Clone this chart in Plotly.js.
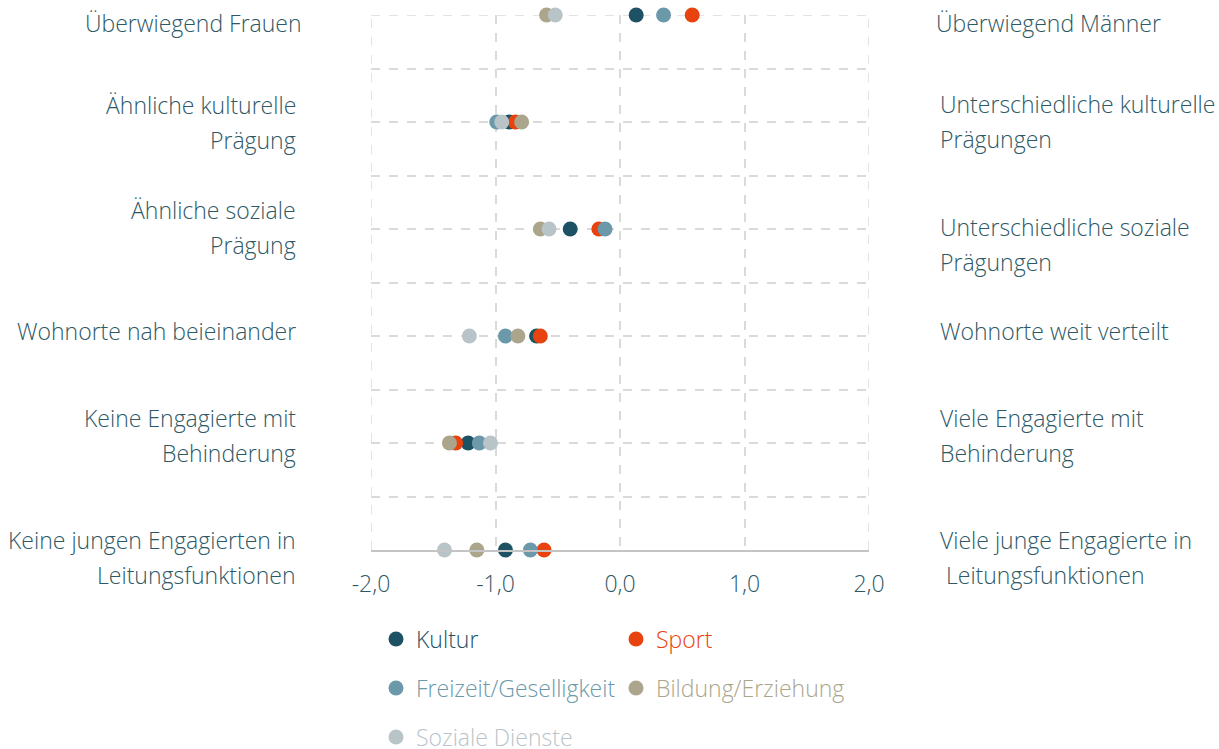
<!DOCTYPE html>
<html>
<head>
<meta charset="utf-8">
<script src="https://cdn.plot.ly/plotly-3.0.1.min.js"></script>
<style>html,body{margin:0;padding:0;background:#fff;}#chart{width:1219px;height:749px;}</style>
</head>
<body>
<div id="chart"></div>
<script>
// ---- data ----
var leftLabels = [
  ["Überwiegend Frauen"],
  ["Ähnliche kulturelle", "Prägung"],
  ["Ähnliche soziale", "Prägung"],
  ["Wohnorte nah beieinander"],
  ["Keine Engagierte mit", "Behinderung"],
  ["Keine jungen Engagierten in", "Leitungsfunktionen"]
];
var rightLabels = [
  ["Überwiegend Männer"],
  ["Unterschiedliche kulturelle", "Prägungen"],
  ["Unterschiedliche soziale", "Prägungen"],
  ["Wohnorte weit verteilt"],
  ["Viele Engagierte mit", "Behinderung"],
  ["Viele junge Engagierte in", "\u00a0Leitungsfunktionen"]
];
var seriesNames = ["Kultur", "Sport", "Freizeit/Geselligkeit", "Bildung/Erziehung", "Soziale Dienste"];
var kultur   = [0.13, -0.89, -0.40, -0.67, -1.22, -0.92];
var sport    = [0.58, -0.84, -0.17, -0.64, -1.32, -0.61];
var freizeit = [0.35, -0.99, -0.12, -0.92, -1.13, -0.72];
var bildung  = [-0.59, -0.79, -0.64, -0.82, -1.37, -1.15];
var soziale  = [-0.52, -0.95, -0.57, -1.21, -1.04, -1.41];
var xTickVals = [-2, -1, 0, 1, 2];

// ---- style ----
var colors = ["#1c5263", "#e8420e", "#6b99a9", "#aba68b", "#b9c4c9"];
var textColor = "#2d5865";
var FONT = "'Open Sans', sans-serif";
var FSIZE = 23;
// label centre offset from the row, in pixels (positive = lower)
var leftDown  = [8, 0, -2, -5, -8, 7];
var rightDown = [8, -1, 15, -5, -8, 7];
var leftX = [-67, -73, -73, -73, -73, -73];
var rightX = [65, 69, 69, 69, 69, 69];
var lineGap = 35;
var gridColor = "#dadada";

var n = leftLabels.length;
var rowY = leftLabels.map(function(_, i){ return n - 1 - i; });
var allSeries = [kultur, sport, freizeit, bildung, soziale];
var legendIds = ["legend", "legend", "legend2", "legend2", "legend3"];

var traces = allSeries.map(function(vals, k){
  return {
    type: "scatter", mode: "markers",
    x: vals, y: rowY,
    name: '<span style="color:' + colors[k] + '">' + seriesNames[k] + '</span>',
    legend: legendIds[k],
    marker: {color: colors[k], size: 15},
    cliponaxis: false,
    hoverinfo: "x"
  };
});

var annotations = [];
function addLabel(lines, y, side, xs, down){
  var m = lines.length;
  lines.forEach(function(t, j){
    annotations.push({
      xref: "paper", yref: "y",
      x: side === "left" ? 0 : 1, y: y,
      xanchor: side === "left" ? "right" : "left",
      yanchor: "middle",
      xshift: xs,
      yshift: -down + ((m - 1) / 2 - j) * lineGap,
      text: t, showarrow: false,
      font: {family: FONT, size: FSIZE, color: textColor, weight: 300},
      align: side
    });
  });
}
for (var i = 0; i < n; i++){
  addLabel(leftLabels[i], rowY[i], "left", leftX[i], leftDown[i]);
  addLabel(rightLabels[i], rowY[i], "right", rightX[i], rightDown[i]);
}

function legendCfg(yc){
  return {
    orientation: "h", xref: "container", yref: "container",
    x: 376/1219, y: yc, xanchor: "left", yanchor: "middle",
    entrywidth: 195, entrywidthmode: "pixels",
    font: {family: FONT, size: FSIZE, color: textColor, weight: 300},
    bgcolor: "rgba(0,0,0,0)", itemclick: false, itemdoubleclick: false
  };
}

var tickText = xTickVals.map(function(v){ return v.toFixed(1).replace(".", ","); });
var xMin = xTickVals[0], xMax = xTickVals[xTickVals.length - 1];
var yMax = n - 1;

var dashLine = {color: gridColor, width: 1.5, dash: "dash"};
var shapes = [
  {type: "line", xref: "x", yref: "paper", x0: xMin, x1: xMin, y0: 0, y1: 1, line: dashLine, layer: "below"},
  {type: "line", xref: "x", yref: "paper", x0: xMax, x1: xMax, y0: 0, y1: 1, line: dashLine, layer: "below"},
  {type: "line", xref: "paper", yref: "y", x0: 0, x1: 1, y0: yMax, y1: yMax, line: dashLine, layer: "below"}
];

var layout = {
  width: 1219, height: 749,
  margin: {l: 371, r: 350, t: 15, b: 199},
  paper_bgcolor: "#ffffff", plot_bgcolor: "#ffffff",
  showlegend: true,
  xaxis: {
    range: [xMin, xMax], tickvals: xTickVals, ticktext: tickText,
    showgrid: true, gridcolor: gridColor, griddash: "dash", gridwidth: 1.5,
    zeroline: false, showline: true, linecolor: "#c4c4c4", linewidth: 2,
    ticks: "", ticklabelstandoff: 12,
    tickfont: {family: FONT, size: FSIZE, color: textColor, weight: 300},
    fixedrange: true
  },
  yaxis: {
    range: [0, yMax], dtick: 0.5, tick0: 0,
    showgrid: true, gridcolor: gridColor, griddash: "dash", gridwidth: 1.5,
    zeroline: false, showline: false, showticklabels: false, ticks: "",
    fixedrange: true
  },
  legend: legendCfg(1 - 639/749),
  legend2: legendCfg(1 - 688/749),
  legend3: legendCfg(1 - 737/749),
  shapes: shapes,
  annotations: annotations
};

Plotly.newPlot("chart", traces, layout, {displayModeBar: false});
</script>
</body>
</html>
